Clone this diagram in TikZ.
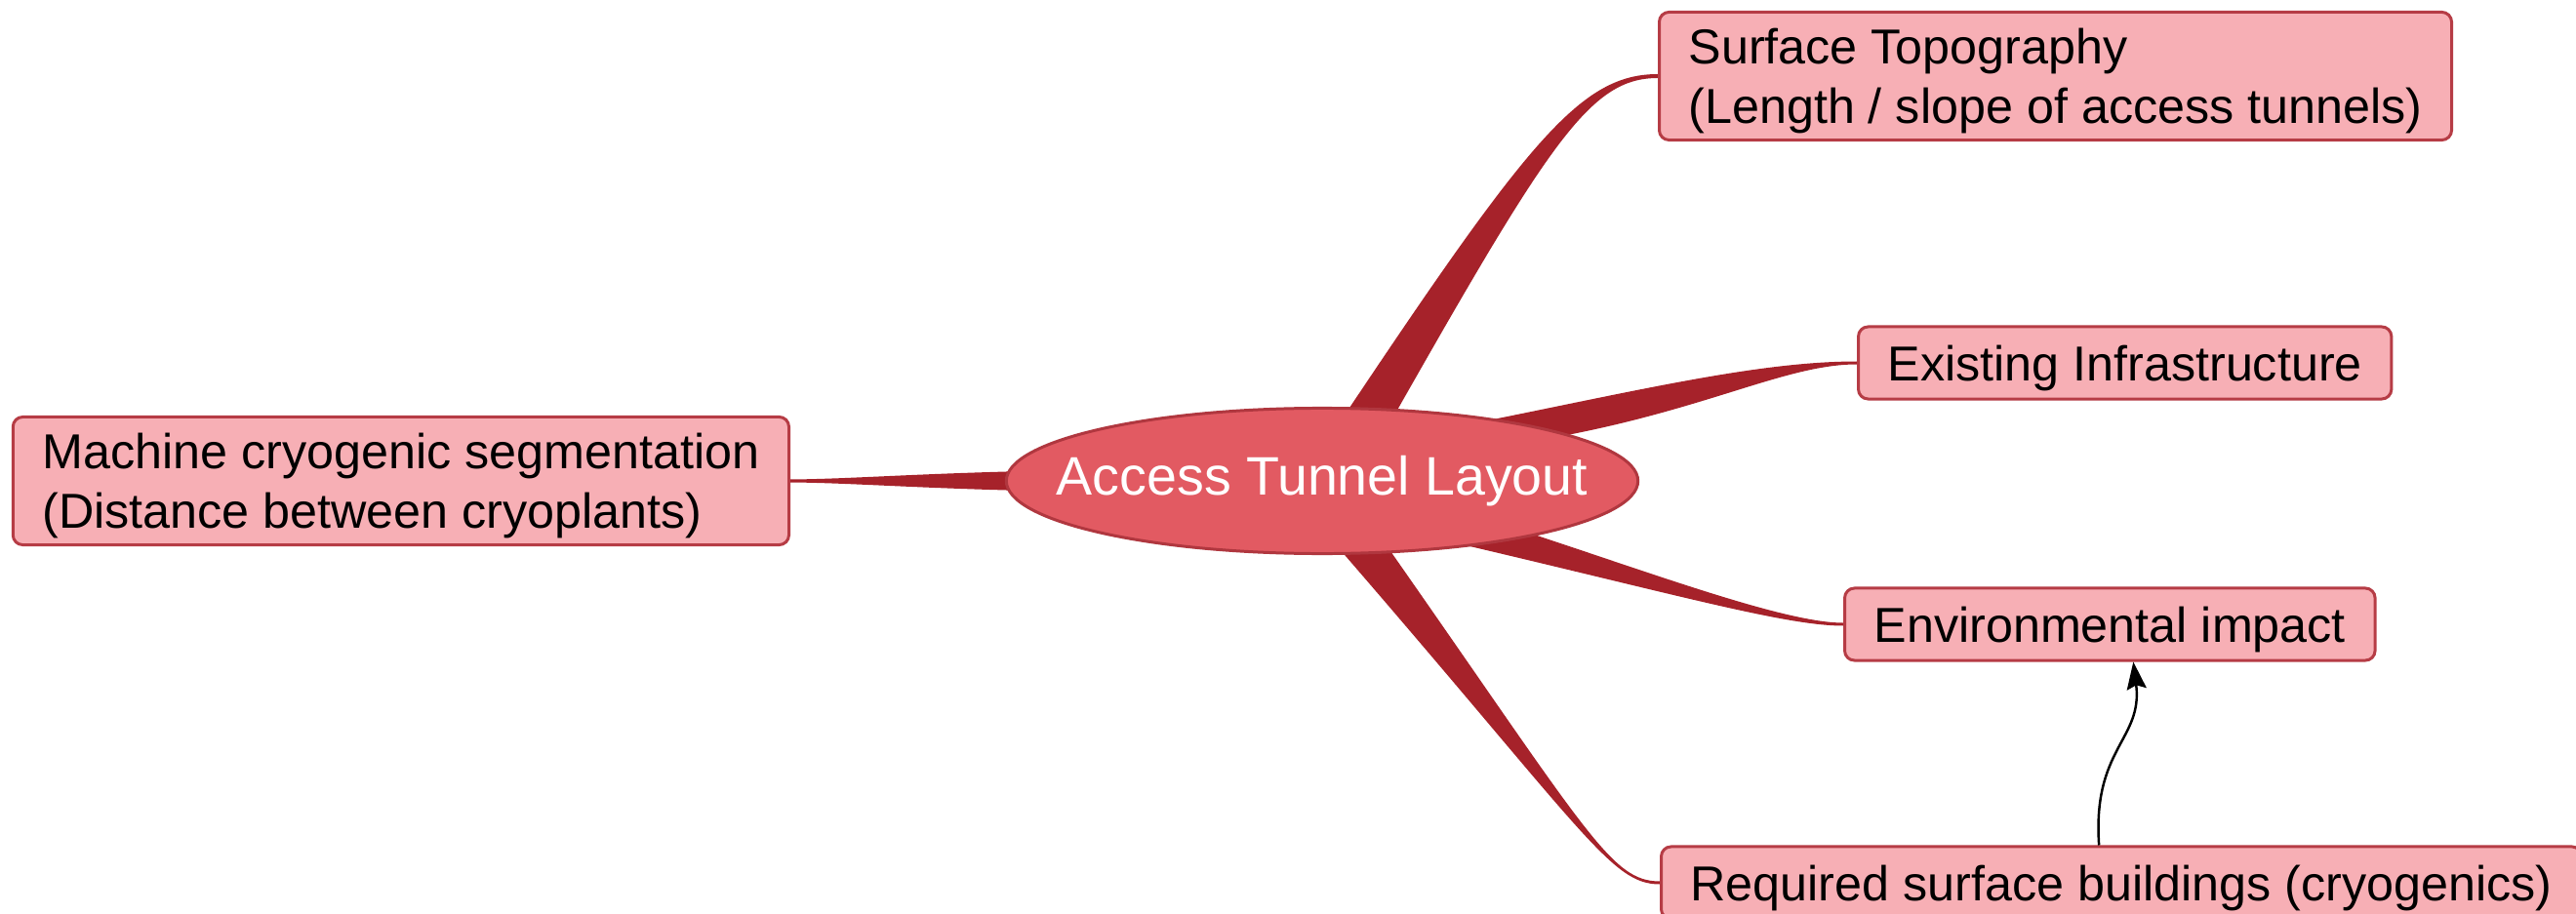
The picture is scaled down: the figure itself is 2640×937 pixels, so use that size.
\documentclass[tikz,border=0pt]{standalone}
\usepackage{fontspec}
\setmainfont{Liberation Sans}
\usetikzlibrary{calc, shapes.geometric, arrows.meta, backgrounds}

\begin{document}
\begin{tikzpicture}[x=0.01cm, y=-0.01cm,
    topic/.style={draw=boxBorder, fill=boxFill, line width=0.85pt, rounded corners=0.1cm,
        inner xsep=0.3cm, inner ysep=0pt, minimum height=0.74cm, text depth=0pt, align=left,
        font=\fontsize{14.3pt}{17.2pt}\selectfont},
    central/.style={ellipse, draw=rootBorder, fill=rootFill, line width=0.85pt,
        minimum width=6.47cm, minimum height=1.49cm, inner sep=0pt},
    centralText/.style={text=white, font=\fontsize{15.8pt}{19pt}\selectfont},
    branch/.style={fill=branchColour},
    link/.style={-{Stealth[length=0.28cm, width=0.2cm, inset=0.04cm]}, line width=0.7pt, black}]
    % Define colours
    \definecolor{boxFill}{HTML}{F7AFB5}
    \definecolor{boxBorder}{HTML}{B63C45}
    \definecolor{rootFill}{HTML}{E25A62}
    \definecolor{rootBorder}{HTML}{B0373F}
    \definecolor{branchColour}{HTML}{A6222A}

    % Page size
    \useasboundingbox (0,0) rectangle (2640,937);

    % Central topic
    \node[central, label={[centralText]center:Access Tunnel Layout}] (root) at (1355,493) {};

    % Sub topics
    \node[topic, minimum height=1.31cm, anchor=east] (machine) at (810,493)
        {Machine cryogenic segmentation\\(Distance between cryoplants)};
    \node[topic, minimum height=1.31cm, anchor=west] (surface) at (1699,78)
        {Surface Topography\\(Length / slope of access tunnels)};
    \node[topic, anchor=west] (exist) at (1903,372) {Existing Infrastructure};
    \node[topic, anchor=west] (env) at (1889,640) {Environmental impact};
    \node[topic, anchor=west] (req) at (1701,905) {Required surface buildings (cryogenics)};

    % Tapered branches behind the nodes
    \begin{scope}[on background layer]
        \fill[branch] ($(root.center)+(-305,-10)$) .. controls +(-120,3) and +(60,-0.5) .. ($(machine.east)+(0,-1.5)$)
            -- ($(machine.east)+(0,1.5)$) .. controls +(60,0.5) and +(-120,-3) .. ($(root.center)+(-305,10)$) -- cycle;
        \fill[branch] ($(root.center)+(10,-48)$) .. controls +(200,-300) and +(-80,0) .. ($(surface.west)+(0,-2)$)
            -- ($(surface.west)+(0,2)$) .. controls +(-70,0) and +(170,-300) .. ($(root.center)+(63,-48)$) -- cycle;
        \fill[branch] ($(root.center)+(165,-61)$) .. controls +(160,-32) and +(-100,0) .. ($(exist.west)+(0,-1.5)$)
            -- ($(exist.west)+(0,1.5)$) .. controls +(-73,0) and +(160,-29) .. ($(root.center)+(235,-44)$) -- cycle;
        \fill[branch] ($(root.center)+(205,51)$) .. controls +(140,46) and +(-59,0) .. ($(env.west)+(0,-1.5)$)
            -- ($(env.west)+(0,1.5)$) .. controls +(-59,0) and +(235,55) .. ($(root.center)+(130,62)$) -- cycle;
        \fill[branch] ($(root.center)+(11,62)$) .. controls +(260,300) and +(-50,0) .. ($(req.west)+(0,1.5)$)
            -- ($(req.west)+(0,-1.5)$) .. controls +(-50,0) and +(210,300) .. ($(root.center)+(63,62)$) -- cycle;
    \end{scope}

    % Relation arrow
    \draw[link] ($(req.north)+(-23,0)$) .. controls +(-7,-100) and +(10,80) .. ($(env.south)+(24,0)$);

\end{tikzpicture}
\end{document}
